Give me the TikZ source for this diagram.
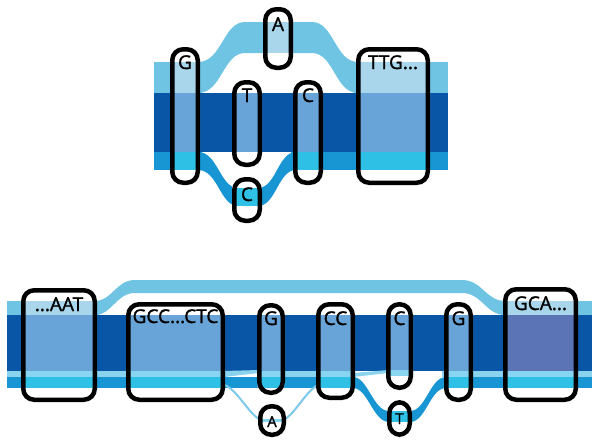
\documentclass[tikz,border=0pt]{standalone}
\usepackage{fontspec}
\setmainfont{Open Sans}
\newfontfamily\labfont{Open Sans}[BoldFont=Open Sans, BoldFeatures={FakeBold=1.5}]
\pgfdeclarelayer{bg}
\pgfsetlayers{bg,main}
\definecolor{cLight}{RGB}{111,196,228}
\definecolor{cDark}{RGB}{10,86,166}
\definecolor{cMid}{RGB}{24,150,211}
\definecolor{cPale}{RGB}{138,211,239}
\definecolor{iLight}{RGB}{169,214,235}
\definecolor{iDark}{RGB}{104,164,215}
\definecolor{iDarkP}{RGB}{90,116,182}
\definecolor{iCyan}{RGB}{47,192,230}
\definecolor{iPale}{RGB}{135,213,241}
\definecolor{cThin}{RGB}{124,200,234}
\tikzset{
  bx/.style={draw=black, line width=4.5pt, rounded corners=11pt, inner sep=0pt, rectangle},
  lab/.style={anchor=base, inner sep=0pt, font=\labfont\bfseries\fontsize{19}{21}\selectfont},
  labs/.style={anchor=base, inner sep=0pt, font=\labfont\bfseries\fontsize{15}{17}\selectfont},
}
\newcommand\mybox[5]{\node[bx, minimum width={#4-#2-4.5}, minimum height={#5-#3-4.5}] (#1) at ({(#2+#4)/2},{(#3+#5)/2}) {};}
\newcommand\myboxin[2]{\begin{scope}\clip[rounded corners=11pt] (#1.south west) rectangle (#1.north east);\fill[white] (#1.south west) rectangle (#1.north east);#2\end{scope}}
\newcommand\myband[3]{\fill[#1] (0,#2) rectangle (600,#3);}
\begin{document}
\begin{tikzpicture}[x=1pt,y=-1pt]
\useasboundingbox (0,0) rectangle (594,439);
% ---------- top panel boxes
\mybox{G}{170}{47}{200}{185}
\mybox{A}{263}{7}{293}{70}
\mybox{T}{232}{80}{262}{167}
\mybox{Cb}{232}{177}{262}{223}
\mybox{Cr}{293}{80}{323}{185}
\mybox{TTG}{356}{47}{430}{185}
% ---------- lower panel boxes
\mybox{AAT}{21}{288}{97}{402}
\mybox{GCC}{126}{302}{225}{402}
\mybox{Ga}{257}{303}{285}{395}
\mybox{Aa}{258}{404}{286}{437}
\mybox{CC}{316}{302}{355}{400}
\mybox{Ca}{386}{302}{413}{390}
\mybox{Ta}{387}{400}{412}{437}
\mybox{Gb}{444}{302}{473}{402}
\mybox{GCA}{503}{287}{578}{402}
% ---------- labels
\node[lab] (tG) at (185,69) {G};
\node[lab] (tA) at (278,31) {A};
\node[lab] (tT) at (247,102) {T};
\node[lab] (tCb) at (247,201) {C};
\node[lab] (tCr) at (308,102) {C};
\node[lab] (tTTG) at (393,69) {TTG...};
\node[lab] (tAAT) at (59,311) {...AAT};
\node[lab] (tGCC) at (175.5,323) {GCC...CTC};
\node[lab] (tGa) at (271,325) {G};
\node[labs] (tAa) at (272,427) {A};
\node[lab] (tCC) at (335.5,325) {CC};
\node[lab] (tCa) at (399.5,325) {C};
\node[labs] (tTa) at (399.5,424) {T};
\node[lab] (tGb) at (458.5,325) {G};
\node[lab] (tGCA) at (540.5,310) {GCA...};
\begin{pgfonlayer}{bg}
% ---------- top panel bands
\fill[cLight] (154,62) rectangle (202,93);
\fill[cLight] (354,62) rectangle (448,93);
\fill[cDark] (154,93) rectangle (448,152);
\fill[cMid] (154,152) rectangle (202,170);
\fill[cMid] (291,152) rectangle (448,170);
\fill[cLight] (198,62) .. controls (222,62) and (223,22) .. (245,22) -- (312,22)
  .. controls (334,22) and (335,62) .. (358,62) -- (358,93)
  .. controls (335,93) and (334,53) .. (312,53) -- (245,53)
  .. controls (223,53) and (222,93) .. (198,93) -- cycle;
\fill[cMid] (198,152) .. controls (218,152) and (220,188) .. (238,188) -- (258,188)
  .. controls (276,188) and (278,152) .. (296,152) -- (296,170)
  .. controls (278,170) and (276,206) .. (258,206) -- (238,206)
  .. controls (220,206) and (218,170) .. (198,170) -- cycle;
% ---------- lower panel bands
\fill[cLight] (7,301) rectangle (99,315);
\fill[cLight] (501,301) rectangle (592,315);
\fill[cDark] (7,315) rectangle (592,371);
\fill[cPale] (7,371) rectangle (227,377);
\fill[cPale] (283,371) rectangle (318,377);
\fill[cPale] (442,371) rectangle (592,377);
\fill[cMid] (7,377) rectangle (259,388);
\fill[cMid] (283,377) rectangle (318,388);
\fill[cMid] (471,377) rectangle (592,388);
\fill[cLight] (95,301) .. controls (112,301) and (116,280) .. (135,280) -- (462,280)
  .. controls (482,280) and (486,301) .. (505,301) -- (505,315)
  .. controls (486,315) and (482,293) .. (462,293) -- (135,293)
  .. controls (116,293) and (112,315) .. (95,315) -- cycle;
\fill[cPale] (224,371) -- (259,370) -- (259,373) -- (224,377) -- cycle;
\fill[cPale] (353,373) -- (388,370) -- (388,373) -- (353,377) -- cycle;
\draw[cThin, line width=2pt] (225,385) .. controls (240,392) and (252,421) .. (265,421) -- (279,421)
  .. controls (292,421) and (304,392) .. (318,385);
\fill[cMid] (353,377) .. controls (368,377) and (373,411) .. (389,411) -- (410,411)
  .. controls (426,411) and (430,377) .. (446,377) -- (446,388)
  .. controls (430,388) and (426,422) .. (410,422) -- (389,422)
  .. controls (373,422) and (368,388) .. (353,388) -- cycle;
% ---------- box interiors, top
\myboxin{G}{\myband{iLight}{62}{93}\myband{iDark}{93}{152}\myband{iCyan}{152}{170}}
\myboxin{A}{\myband{iLight}{22}{53}}
\myboxin{T}{\myband{iDark}{93}{152}}
\myboxin{Cb}{\myband{iCyan}{188}{206}}
\myboxin{Cr}{\myband{iDark}{93}{152}\myband{iCyan}{152}{170}}
\myboxin{TTG}{\myband{iLight}{62}{93}\myband{iDark}{93}{152}\myband{iCyan}{152}{170}}
% ---------- box interiors, lower
\myboxin{AAT}{\myband{iLight}{301}{315}\myband{iDark}{315}{371}\myband{iPale}{371}{377}\myband{iCyan}{377}{388}}
\myboxin{GCC}{\myband{iDark}{315}{371}\myband{iPale}{371}{377}\myband{iCyan}{377}{388}}
\myboxin{Ga}{\myband{iDark}{315}{371}\myband{iPale}{371}{377}\myband{iCyan}{377}{388}}
\myboxin{Aa}{\myband{iPale}{419}{422}}
\myboxin{CC}{\myband{iDark}{315}{371}\myband{iPale}{371}{377}\myband{iCyan}{377}{388}}
\myboxin{Ca}{\myband{iDark}{315}{370}\myband{iPale}{370}{376}}
\myboxin{Ta}{\myband{iCyan}{411}{422}}
\myboxin{Gb}{\myband{iDark}{315}{371}\myband{iPale}{371}{377}\myband{iCyan}{377}{388}}
\myboxin{GCA}{\myband{iLight}{301}{315}\myband{iDarkP}{315}{371}\myband{iPale}{371}{377}\myband{iCyan}{377}{388}}
\end{pgfonlayer}
\end{tikzpicture}
\end{document}
